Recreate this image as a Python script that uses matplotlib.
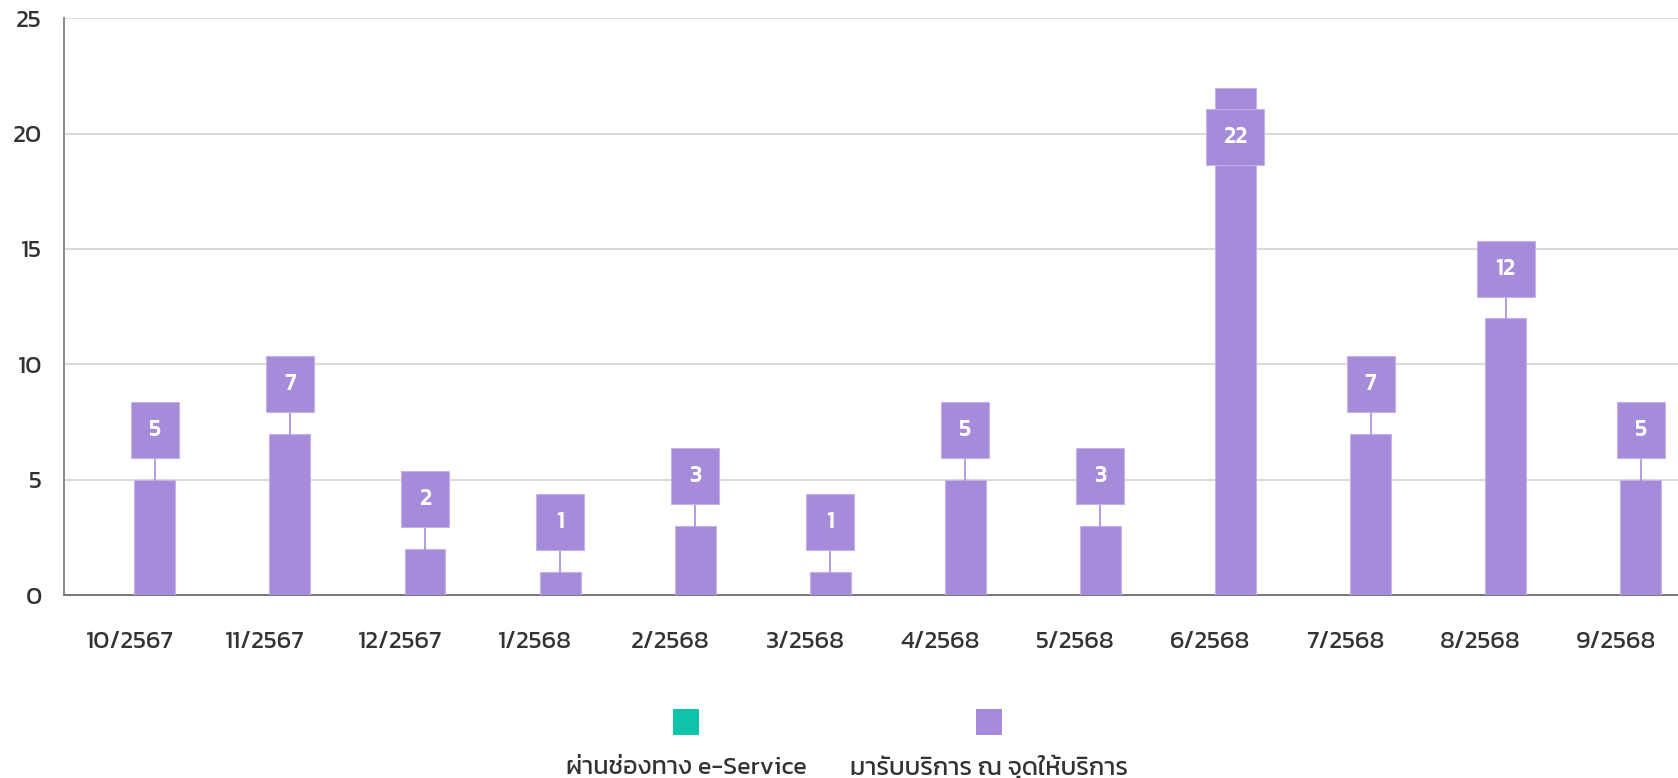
import matplotlib
matplotlib.use("Agg")
import matplotlib.pyplot as plt
from matplotlib.patches import Rectangle
import numpy as np

plt.rcParams['font.family'] = ['Kanit', 'Prompt', 'DejaVu Sans']

months = ['10/2567', '11/2567', '12/2567', '1/2568', '2/2568', '3/2568',
          '4/2568', '5/2568', '6/2568', '7/2568', '8/2568', '9/2568']
eservice = [0, 0, 0, 0, 0, 0, 0, 0, 0, 0, 0, 0]
onsite = [5, 7, 2, 1, 3, 1, 5, 3, 22, 7, 12, 5]
series_names = ['ผ่านช่องทาง e-Service', 'มารับบริการ ณ จุดให้บริการ']

teal = '#0fc2aa'
purple = '#a78bdb'
text_col = '#333333'

W, H = 1678, 778
fig = plt.figure(figsize=(W / 100, H / 100), dpi=100)
ax = fig.add_axes([64.3 / W, 1 - 595 / H, 1619 / W, 576.7 / H])

x = np.arange(len(months))
bw = 0.303
off = 0.185
ax.bar(x - off, eservice, bw, color=teal, linewidth=0, zorder=3)
ax.bar(x + off, onsite, bw, color=purple, edgecolor='#c4b2ea', linewidth=0.8, zorder=3)

xmin = -0.485
ax.set_xlim(xmin, len(months) - 0.5)
ax.set_ylim(0, 25)
ax.set_yticks([0, 5, 10, 15, 20, 25])
ax.set_xticks(x)
ax.set_xticklabels(months)
ax.tick_params(axis='both', length=0, labelsize=18, labelcolor=text_col)
ax.tick_params(axis='x', pad=26)
ax.tick_params(axis='y', pad=16)
ax.grid(axis='y', color='#d9d9d9', linewidth=1.4, zorder=0)
for s in ['top', 'right']:
    ax.spines[s].set_visible(False)
ax.spines['left'].set_color('#8a8a8a')
ax.spines['left'].set_linewidth(1.4)
ax.spines['bottom'].set_color('#777777')
ax.spines['bottom'].set_linewidth(1.4)

# value labels: box above bar with a short connector
px_x = 1619 / (len(months) - 0.5 - xmin)
px_y = 576.7 / 25
box_h = 56 / px_y
gap = 0.94
for xi, v in zip(x + off, onsite):
    s = str(v)
    bw_px = 38 + 10 * len(s)
    box_w = bw_px / px_x
    if v + gap + box_h > 25:
        top = v - gap
        bottom = top - box_h
    else:
        bottom = v + gap
        ax.plot([xi, xi], [v, bottom], color=purple, linewidth=1.2, zorder=4)
    ax.add_patch(Rectangle((xi - box_w / 2, bottom), box_w, box_h,
                           facecolor=purple, edgecolor='#c4b2ea', linewidth=0.8, zorder=5))
    ax.text(xi, bottom + box_h / 2, s, ha='center', va='center', color='white',
            fontsize=17, fontweight='medium', zorder=6)

# legend: square above label
for cx, col, name in [(686, teal, series_names[0]), (989, purple, series_names[1])]:
    fig.add_artist(Rectangle(((cx - 13) / W, 1 - 735 / H), 26 / W, 26 / H,
                             transform=fig.transFigure, facecolor=col, edgecolor='none'))
    fig.text(cx / W, 1 - 768 / H, name, ha='center', va='center', fontsize=18, color=text_col)

fig.savefig('out.png', dpi=100)
